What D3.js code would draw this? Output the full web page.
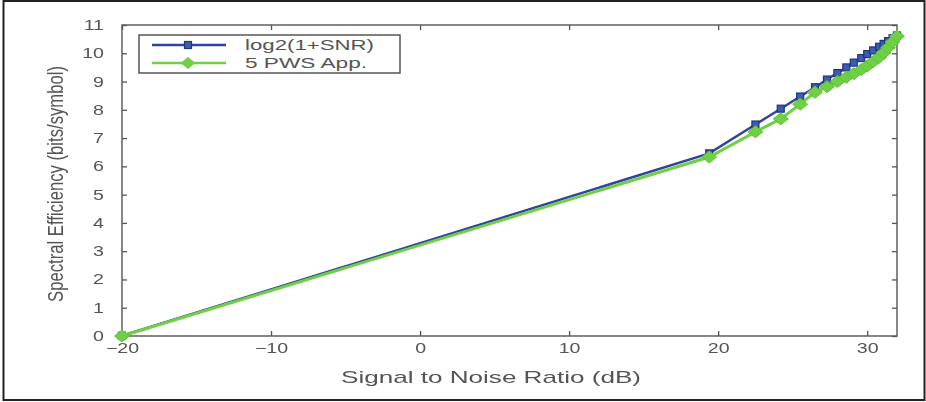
<!DOCTYPE html>
<html>
<head>
<meta charset="utf-8">
<script src="https://cdn.jsdelivr.net/npm/d3@7"></script>
<style>
  html, body { margin: 0; padding: 0; background: #fff; }
  svg { display: block; }
  text { font-family: "Liberation Sans", Arial, Helvetica, sans-serif; fill: #555; }
  #plot { filter: blur(0.35px); }
</style>
</head>
<body>
<svg id="chart" width="926" height="402"></svg>
<script>
// ---- data ----
const snrDb = [-20, 19.4, 22.5, 24.2, 25.5, 26.5, 27.3, 28.0, 28.6, 29.1, 29.6, 30.0, 30.4, 30.8, 31.1, 31.4, 31.7, 32.0];
const log2Series = [0.01, 6.46, 7.48, 8.04, 8.47, 8.80, 9.07, 9.30, 9.50, 9.67, 9.83, 9.97, 10.10, 10.23, 10.33, 10.43, 10.53, 10.63];
const pwsSeries  = [0.0, 6.33, 7.22, 7.68, 8.20, 8.62, 8.82, 9.00, 9.15, 9.28, 9.42, 9.55, 9.70, 9.86, 10.02, 10.20, 10.40, 10.60];
const seriesNames = ["log2(1+SNR)", "5 PWS App."];
const xTicks = [-20, -10, 0, 10, 20, 30];
const yTicks = [0, 1, 2, 3, 4, 5, 6, 7, 8, 9, 10, 11];
const xLabel = "Signal to Noise Ratio (dB)";
const yLabel = "Spectral Efficiency (bits/symbol)";

const svg = d3.select("#chart");
const m = { left: 122, right: 897, top: 25, bottom: 336 };
const stretch = 1.4; // reference text is horizontally stretched

// outer frame
svg.append("rect").attr("x", 3.5).attr("y", 1).attr("width", 921).attr("height", 399)
  .attr("fill", "#fff").attr("stroke", "#222").attr("stroke-width", 2);

const x = d3.scaleLinear().domain([-20, 32]).range([m.left, m.right]);
const y = d3.scaleLinear().domain([0, 11]).range([m.bottom, m.top]);

const g = svg.append("g").attr("id", "plot");

// plot box
g.append("rect").attr("x", m.left).attr("y", m.top)
  .attr("width", m.right - m.left).attr("height", m.bottom - m.top)
  .attr("fill", "#fff").attr("stroke", "#555").attr("stroke-width", 1.4);

function stretchText(sel) {
  sel.each(function () {
    const t = d3.select(this);
    const tx = +t.attr("x") || 0;
    t.attr("x", 0).attr("transform", `translate(${tx},0) scale(${stretch},1)`);
  });
}

// axes with inward ticks
const axB = g.append("g").attr("transform", `translate(0,${m.bottom})`)
  .call(d3.axisBottom(x).tickValues(xTicks).tickSizeInner(-5).tickSizeOuter(0).tickPadding(7)
    .tickFormat(d => d < 0 ? "\u2212" + Math.abs(d) : d));
const axT = g.append("g").attr("transform", `translate(0,${m.top})`)
  .call(d3.axisTop(x).tickValues(xTicks).tickSizeInner(-5).tickSizeOuter(0).tickFormat(""));
const axL = g.append("g").attr("transform", `translate(${m.left},0)`)
  .call(d3.axisLeft(y).tickValues(yTicks).tickSizeInner(-5).tickSizeOuter(0).tickPadding(18));
const axR = g.append("g").attr("transform", `translate(${m.right},0)`)
  .call(d3.axisRight(y).tickValues(yTicks).tickSizeInner(-5).tickSizeOuter(0).tickFormat(""));
[axB, axT, axL, axR].forEach(a => {
  a.select(".domain").remove();
  a.selectAll("line").attr("stroke", "#555").attr("stroke-width", 1.3);
  a.selectAll("text").style("font-size", "14px").attr("fill", "#555")
    .style("font-family", "'Liberation Sans', Arial, sans-serif");
});
stretchText(axB.selectAll("text"));
stretchText(axL.selectAll("text"));

// axis labels
g.append("text").attr("x", 491).attr("y", 383)
  .attr("text-anchor", "middle").style("font-size", "17px")
  .attr("textLength", 300).attr("lengthAdjust", "spacingAndGlyphs").text(xLabel);
g.append("text").attr("transform", `translate(63,184) rotate(-90) scale(1,1.35)`)
  .attr("text-anchor", "middle").style("font-size", "16px")
  .attr("textLength", 236).attr("lengthAdjust", "spacingAndGlyphs").text(yLabel);

const blue = "#2f4597", green = "#6fcf45";
const line = d3.line().x(d => x(d[0])).y(d => y(d[1]));
const bluePts = snrDb.map((s, i) => [s, log2Series[i]]);
const greenPts = snrDb.map((s, i) => [s, pwsSeries[i]]);

// blue series
g.append("path").datum(bluePts).attr("d", line).attr("fill", "none")
  .attr("stroke", blue).attr("stroke-width", 2.5);
g.selectAll(".bm").data(bluePts).join("rect").attr("class", "bm")
  .attr("x", d => x(d[0]) - 3.5).attr("y", d => y(d[1]) - 3.5)
  .attr("width", 7).attr("height", 7)
  .attr("fill", "#3d5bb0").attr("stroke", "#1f3380").attr("stroke-width", 1.2);

// green series
g.append("path").datum(greenPts).attr("d", line).attr("fill", "none")
  .attr("stroke", green).attr("stroke-width", 3);
const diamond = "M-7.5,0L0,-6L7.5,0L0,6Z";
g.selectAll(".gm").data(greenPts).join("path").attr("class", "gm")
  .attr("transform", d => `translate(${x(d[0])},${y(d[1])})`)
  .attr("d", diamond).attr("fill", green).attr("stroke", "#62c23a").attr("stroke-width", 1);

// legend
const lg = g.append("g");
lg.append("rect").attr("x", 139).attr("y", 35).attr("width", 261).attr("height", 38)
  .attr("fill", "#fff").attr("stroke", "#555").attr("stroke-width", 1.5);
const rows = [
  { name: seriesNames[0], color: blue, yy: 45, type: "sq", len: 129 },
  { name: seriesNames[1], color: green, yy: 63, type: "dm", len: 122 }
];
rows.forEach(r => {
  lg.append("line").attr("x1", 152).attr("x2", 226).attr("y1", r.yy).attr("y2", r.yy)
    .attr("stroke", r.color).attr("stroke-width", 2.5);
  if (r.type === "sq") {
    lg.append("rect").attr("x", 184.5).attr("y", r.yy - 3.5).attr("width", 7).attr("height", 7)
      .attr("fill", "#3d5bb0").attr("stroke", "#1f3380").attr("stroke-width", 1.2);
  } else {
    lg.append("path").attr("transform", `translate(188,${r.yy})`).attr("d", diamond)
      .attr("fill", green);
  }
  lg.append("text").attr("x", 245).attr("y", r.yy + 5).style("font-size", "14px")
    .attr("textLength", r.len).attr("lengthAdjust", "spacingAndGlyphs").text(r.name);
});
</script>
</body>
</html>
